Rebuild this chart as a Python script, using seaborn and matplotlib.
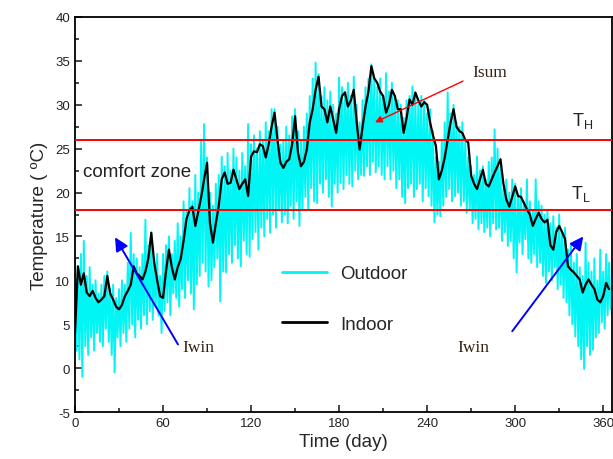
import numpy as np
import pandas as pd
import matplotlib
matplotlib.use("Agg")
import matplotlib.pyplot as plt
import seaborn as sns

# outdoor daily highs (even days 0..364) and lows (odd days 1..365), degC
outdoor_high = [
    12.5, 11.0, 13.0, 14.5, 10.5, 11.5, 9.5, 10.0, 8.5, 9.5,
    10.5, 11.0, 9.0, 9.5, 8.0, 9.0, 10.0, 9.5, 12.0, 15.4,
    13.0, 12.5, 11.5, 13.0, 16.9, 14.0, 15.5, 12.5, 13.0, 10.5,
    13.0, 14.0, 15.0, 13.0, 14.5, 16.5, 15.0, 19.0, 18.0, 20.5,
    19.0, 22.0, 20.0, 26.0, 27.8, 24.0, 20.0, 18.5, 21.0, 22.0,
    24.1, 23.0, 24.5, 22.5, 25.0, 24.0, 22.5, 24.5, 23.0, 27.8,
    25.5, 26.5, 25.0, 27.0, 26.0, 28.0, 27.0, 29.5, 29.5, 27.5,
    25.5, 26.0, 27.5, 26.5, 28.7, 29.5, 27.0, 26.0, 27.5, 29.0,
    31.0, 33.0, 34.8, 33.5, 31.0, 32.0, 30.5, 31.5, 30.0, 29.0,
    33.1, 32.0, 31.5, 32.5, 31.0, 33.2, 30.0, 28.0, 30.5, 32.0,
    33.0, 34.6, 33.0, 32.0, 33.0, 31.0, 33.6, 31.5, 32.5, 31.0,
    30.5, 30.0, 28.5, 30.5, 31.0, 32.1, 31.0, 30.0, 31.0, 30.5,
    29.0, 29.5, 27.0, 24.0, 23.5, 26.0, 28.0, 31.4, 29.0, 30.0,
    28.0, 27.5, 28.0, 26.0, 24.0, 23.0, 22.0, 24.1, 22.5, 23.0,
    21.5, 23.5, 24.0, 27.2, 25.0, 23.0, 20.5, 21.5, 20.0, 21.5,
    21.0, 19.5, 20.5, 18.5, 21.5, 19.0, 18.0, 21.5, 19.0, 18.5,
    17.5, 18.0, 16.5, 17.3, 16.0, 17.5, 15.5, 16.0, 13.5, 14.0,
    12.0, 13.0, 11.5, 10.5, 14.3, 12.0, 11.0, 12.5, 10.0, 13.5,
    11.0, 13.0, 12.0,
]
outdoor_low = [
    2.0, 1.0, -1.0, 2.5, 1.5, 3.5, 2.0, 4.0, 3.0, 2.5,
    4.5, 3.0, 1.5, -0.5, 3.5, 2.5, 4.0, 3.0, 4.5, 5.0,
    3.5, 5.5, 4.5, 6.0, 5.0, 6.5, 5.5, 7.0, 6.0, 4.0,
    6.5, 7.5, 6.0, 8.5, 8.0, 7.0, 9.0, 8.0, 10.0, 8.5,
    6.7, 9.5, 10.5, 12.0, 11.0, 9.3, 10.0, 11.5, 12.5, 7.6,
    11.0, 10.9, 13.0, 12.0, 14.0, 12.5, 11.6, 14.5, 13.0, 12.7,
    14.7, 15.5, 13.5, 16.0, 15.0, 17.0, 15.4, 17.5, 16.0, 18.0,
    16.6, 17.5, 16.5, 18.5, 17.0, 19.0, 16.2, 18.0, 19.5, 18.0,
    20.5, 19.0, 18.8, 21.0, 20.0, 21.5, 19.5, 18.4, 21.0, 20.0,
    21.1, 20.4, 22.0, 21.0, 20.7, 22.5, 21.5, 22.0, 21.9, 23.0,
    22.0, 23.5, 22.3, 23.0, 22.0, 21.5, 23.0, 21.5, 22.5, 20.5,
    21.5, 19.5, 18.8, 20.5, 21.0, 19.5, 20.4, 21.0, 19.0, 20.5,
    19.6, 18.5, 16.6, 17.5, 17.3, 18.5, 19.5, 20.4, 19.0, 19.6,
    20.0, 18.5, 19.0, 17.7, 18.0, 16.5, 17.0, 15.8, 16.5, 15.5,
    16.0, 15.0, 16.5, 15.8, 16.0, 14.5, 15.5, 13.9, 14.5, 12.5,
    10.9, 14.3, 13.0, 14.7, 12.5, 12.0, 13.0, 11.5, 12.0, 10.5,
    9.7, 11.0, 10.0, 11.5, 9.0, 9.5, 8.0, 7.5, 6.0, 5.0,
    3.6, 2.5, 1.0, -0.1, 2.5, 1.5, 2.1, 3.5, 4.0, 5.2,
    4.5, 6.0, 6.7,
]
# indoor temperature every 2 days (0..364)
indoor = [
    4.0, 11.6, 9.5, 10.8, 8.6, 8.2, 8.8, 8.0, 7.5, 7.8,
    8.2, 10.5, 8.5, 7.8, 7.0, 6.7, 7.2, 8.2, 8.8, 9.5,
    11.6, 10.8, 10.5, 10.1, 11.0, 12.5, 15.4, 12.0, 10.0, 8.2,
    8.0, 11.0, 13.5, 11.5, 10.1, 11.5, 12.4, 14.5, 17.0, 18.0,
    18.4, 16.2, 17.8, 19.5, 21.5, 23.4, 16.5, 14.3, 16.5, 18.5,
    21.5, 22.3, 21.0, 21.1, 22.6, 21.5, 20.4, 21.0, 21.5, 19.6,
    24.1, 24.7, 24.6, 25.5, 25.3, 24.0, 25.5, 27.5, 29.1, 26.0,
    23.4, 22.8, 23.5, 23.8, 25.5, 28.7, 24.5, 23.0, 23.5, 24.9,
    28.0, 29.5, 31.7, 33.2, 29.8, 29.5, 28.0, 29.8, 28.3, 26.8,
    29.5, 31.0, 31.4, 29.8, 30.5, 31.7, 28.0, 24.9, 27.5, 29.8,
    31.5, 34.4, 33.0, 32.5, 31.5, 31.0, 29.1, 30.0, 31.7, 31.0,
    29.5, 29.5, 26.8, 28.5, 30.6, 30.0, 31.4, 30.5, 29.8, 30.3,
    30.0, 28.0, 26.5, 25.3, 21.5, 22.5, 24.0, 26.0, 28.0, 29.5,
    27.5, 27.0, 26.8, 26.0, 25.7, 21.9, 21.0, 20.4, 21.5, 22.6,
    21.0, 20.7, 21.5, 22.3, 23.0, 23.8, 21.0, 19.2, 18.4, 19.5,
    20.7, 19.6, 19.5, 18.8, 18.1, 17.5, 16.2, 17.0, 17.7, 17.0,
    16.6, 16.9, 14.0, 13.5, 15.5, 16.2, 15.5, 14.7, 11.6, 11.2,
    10.9, 10.5, 10.1, 8.6, 9.5, 10.1, 9.5, 9.0, 7.8, 7.5,
    8.2, 9.7, 9.0,
]
T_H = 26
T_L = 18

outdoor = pd.concat([
    pd.DataFrame({"day": np.arange(len(outdoor_high)) * 2, "temp": outdoor_high}),
    pd.DataFrame({"day": np.arange(len(outdoor_low)) * 2 + 1, "temp": outdoor_low}),
]).sort_values("day")
indoor_df = pd.DataFrame({"day": np.arange(len(indoor)) * 2, "temp": indoor})

sns.set_style("ticks")
plt.rcParams["font.family"] = ["Liberation Sans", "DejaVu Sans"]
plt.rcParams["mathtext.fontset"] = "custom"
plt.rcParams["mathtext.rm"] = "Liberation Sans"
plt.rcParams["axes.unicode_minus"] = False

fig = plt.figure(figsize=(6.13, 4.6), dpi=100)
ax = fig.add_axes([75 / 613, 1 - 413 / 460, 537 / 613, 395 / 460])

sns.lineplot(data=outdoor, x="day", y="temp", estimator=None, sort=False,
             color="#00f5f5", lw=1.4, label="Outdoor", ax=ax, zorder=2)
sns.lineplot(data=indoor_df, x="day", y="temp", estimator=None,
             color="black", lw=1.6, label="Indoor", ax=ax, zorder=3)

ax.axhline(T_H, color="red", lw=1.4, zorder=4)
ax.axhline(T_L, color="red", lw=1.4, zorder=4)

ax.set_xlim(0, 366)
ax.set_ylim(-5, 40)
ax.set_xticks(np.arange(0, 361, 60))
ax.set_xticks(np.arange(30, 361, 60), minor=True)
ax.set_yticks(np.arange(-5, 41, 5))
ax.set_yticks(np.arange(-2.5, 40, 5), minor=True)
ax.tick_params(which="both", direction="in", top=False, right=False,
               labelsize=9.5, labelcolor="#222222", width=1.2)
ax.tick_params(which="major", length=5)
ax.tick_params(which="minor", length=3)
for s in ax.spines.values():
    s.set_linewidth(1.3)
    s.set_color("black")

ax.set_xlabel("Time (day)", fontsize=13.5, labelpad=3)
ax.set_ylabel("Temperature ( ºC)", fontsize=13.5, labelpad=5)

leg = ax.legend(loc="upper left", bbox_to_anchor=(0.385, 0.372), frameon=False,
                fontsize=13.5, labelspacing=1.8, handlelength=2.4,
                handletextpad=0.7, borderpad=0, borderaxespad=0)
for ln in leg.get_lines():
    ln.set_linewidth(2.0)

ax.text(5.5, 22.4, "comfort zone", fontsize=13.5, color="#222222",
        ha="left", va="center")
ax.text(339, 28.3, r"T$_\mathrm{H}$", fontsize=13, color="#222222",
        ha="left", va="center")
ax.text(338, 20.0, r"T$_\mathrm{L}$", fontsize=13, color="#222222",
        ha="left", va="center")

serif = ["Liberation Serif", "DejaVu Serif"]
ax.text(270.5, 33.7, "Isum", fontsize=12.5, family=serif, color="#332211",
        va="center", zorder=6)
ax.annotate("", xy=(204.5, 28.0), xytext=(264.5, 32.7),
            arrowprops=dict(arrowstyle="-|>", color="red", lw=1.0,
                            mutation_scale=10, shrinkA=0, shrinkB=0),
            zorder=6)
ax.text(73, 2.4, "Iwin", fontsize=12.5, family=serif, color="#332211",
        va="center", zorder=6)
ax.annotate("", xy=(27.3, 14.9), xytext=(70.2, 2.7),
            arrowprops=dict(arrowstyle="-|>", color="blue", lw=1.4,
                            mutation_scale=20, shrinkA=0, shrinkB=0),
            zorder=6)
ax.text(260.5, 2.4, "Iwin", fontsize=12.5, family=serif, color="#332211",
        va="center", zorder=6)
ax.annotate("", xy=(346.4, 15.0), xytext=(298, 4.2),
            arrowprops=dict(arrowstyle="-|>", color="blue", lw=1.4,
                            mutation_scale=20, shrinkA=0, shrinkB=0),
            zorder=6)

fig.savefig("out.png", dpi=100)
plt.close(fig)
